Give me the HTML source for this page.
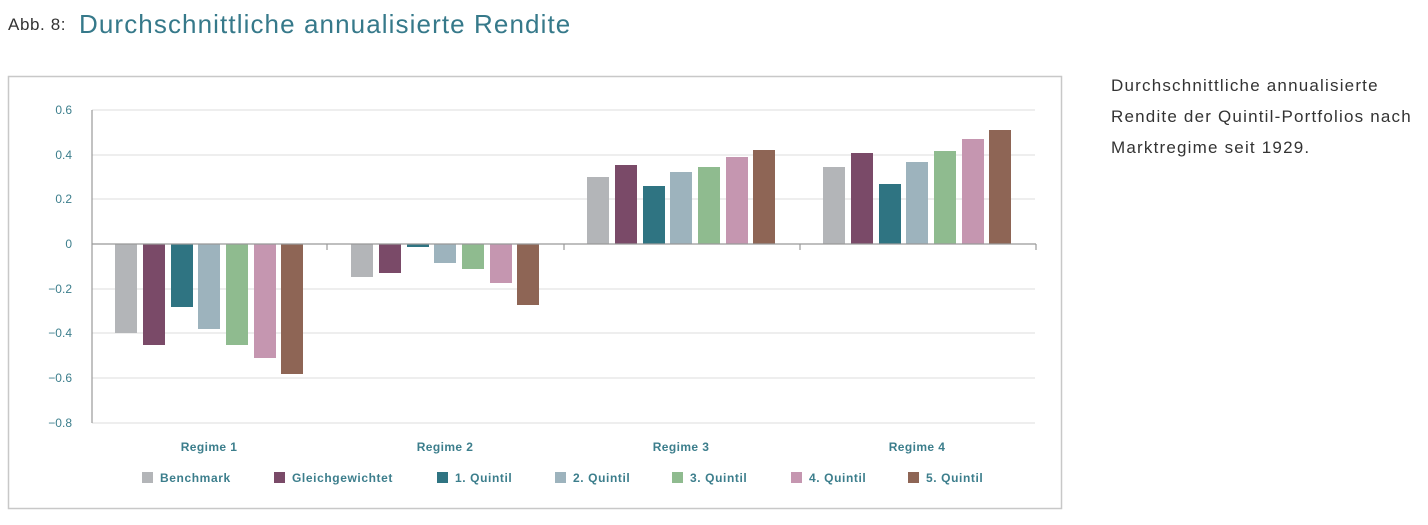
<!DOCTYPE html>
<html><head><meta charset="utf-8"><style>
body{margin:0;width:1428px;height:525px;background:#fff;overflow:hidden;font-family:"Liberation Sans",sans-serif;position:relative}
.t1{position:absolute;left:8px;top:15px;font-size:17px;color:#333;letter-spacing:0.6px}
.t2{position:absolute;left:79px;top:9px;font-size:26px;color:#36798a;letter-spacing:1.1px}
.side{position:absolute;left:1111px;top:70px;font-size:17px;line-height:31px;color:#333;letter-spacing:1.2px}
</style></head><body>
<div class="t1">Abb. 8:</div>
<div class="t2">Durchschnittliche annualisierte Rendite</div>
<div class="side">Durchschnittliche annualisierte<br>Rendite der Quintil-Portfolios nach<br>Marktregime seit 1929.</div>
<svg width="1428" height="525" style="position:absolute;left:0;top:0" font-family="Liberation Sans, sans-serif">
<rect x="8.5" y="76.5" width="1053" height="432" fill="none" stroke="#c8c8c8" stroke-width="1.5"/>
<g stroke="#dcdcdc" stroke-width="1">
<line x1="92" x2="1035" y1="110" y2="110"/><line x1="92" x2="1035" y1="155" y2="155"/>
<line x1="92" x2="1035" y1="199" y2="199"/><line x1="92" x2="1035" y1="289" y2="289"/>
<line x1="92" x2="1035" y1="333" y2="333"/><line x1="92" x2="1035" y1="378" y2="378"/>
<line x1="92" x2="1035" y1="423" y2="423"/>
</g>
<g font-size="12" fill="#3c7e8c" text-anchor="end">
<text x="72" y="114">0.6</text><text x="72" y="159">0.4</text><text x="72" y="203">0.2</text>
<text x="72" y="248">0</text><text x="72" y="293">−0.2</text><text x="72" y="337">−0.4</text>
<text x="72" y="382">−0.6</text><text x="72" y="427">−0.8</text>
</g>
<g id="bars">
<rect x="115" y="244" width="22" height="89" fill="#b3b5b8"/>
<rect x="143" y="244" width="22" height="101" fill="#7a4a68"/>
<rect x="171" y="244" width="22" height="63" fill="#2f7482"/>
<rect x="198" y="244" width="22" height="85" fill="#9db3bd"/>
<rect x="226" y="244" width="22" height="101" fill="#8fbb8f"/>
<rect x="254" y="244" width="22" height="114" fill="#c596b0"/>
<rect x="281" y="244" width="22" height="130" fill="#8e6555"/>

<rect x="351" y="244" width="22" height="33" fill="#b3b5b8"/>
<rect x="379" y="244" width="22" height="29" fill="#7a4a68"/>
<rect x="407" y="244" width="22" height="3" fill="#2f7482"/>
<rect x="434" y="244" width="22" height="19" fill="#9db3bd"/>
<rect x="462" y="244" width="22" height="25" fill="#8fbb8f"/>
<rect x="490" y="244" width="22" height="39" fill="#c596b0"/>
<rect x="517" y="244" width="22" height="61" fill="#8e6555"/>

<rect x="587" y="177" width="22" height="67" fill="#b3b5b8"/>
<rect x="615" y="165" width="22" height="79" fill="#7a4a68"/>
<rect x="643" y="186" width="22" height="58" fill="#2f7482"/>
<rect x="670" y="172" width="22" height="72" fill="#9db3bd"/>
<rect x="698" y="167" width="22" height="77" fill="#8fbb8f"/>
<rect x="726" y="157" width="22" height="87" fill="#c596b0"/>
<rect x="753" y="150" width="22" height="94" fill="#8e6555"/>

<rect x="823" y="167" width="22" height="77" fill="#b3b5b8"/>
<rect x="851" y="153" width="22" height="91" fill="#7a4a68"/>
<rect x="879" y="184" width="22" height="60" fill="#2f7482"/>
<rect x="906" y="162" width="22" height="82" fill="#9db3bd"/>
<rect x="934" y="151" width="22" height="93" fill="#8fbb8f"/>
<rect x="962" y="139" width="22" height="105" fill="#c596b0"/>
<rect x="989" y="130" width="22" height="114" fill="#8e6555"/>
</g>
<g stroke="#999" stroke-width="1.2">
<line x1="92" x2="92" y1="110" y2="423"/>
<line x1="92" x2="1036" y1="244" y2="244"/>
<line x1="327" x2="327" y1="244" y2="250"/><line x1="564" x2="564" y1="244" y2="250"/>
<line x1="800" x2="800" y1="244" y2="250"/><line x1="1036" x2="1036" y1="244" y2="250"/>
</g>
<g font-size="12" font-weight="bold" fill="#3c7e8c" text-anchor="middle" letter-spacing="0.4">
<text x="209" y="451">Regime 1</text><text x="445" y="451">Regime 2</text>
<text x="681" y="451">Regime 3</text><text x="917" y="451">Regime 4</text>
</g>
<g font-size="12" font-weight="bold" fill="#3c7e8c" letter-spacing="0.6">
<rect x="142" y="472" width="11" height="11" fill="#b3b5b8"/><text x="160" y="482">Benchmark</text>
<rect x="274" y="472" width="11" height="11" fill="#7a4a68"/><text x="292" y="482">Gleichgewichtet</text>
<rect x="437" y="472" width="11" height="11" fill="#2f7482"/><text x="455" y="482">1. Quintil</text>
<rect x="555" y="472" width="11" height="11" fill="#9db3bd"/><text x="573" y="482">2. Quintil</text>
<rect x="672" y="472" width="11" height="11" fill="#8fbb8f"/><text x="690" y="482">3. Quintil</text>
<rect x="791" y="472" width="11" height="11" fill="#c596b0"/><text x="809" y="482">4. Quintil</text>
<rect x="908" y="472" width="11" height="11" fill="#8e6555"/><text x="926" y="482">5. Quintil</text>
</g>
</svg>
</body></html>
